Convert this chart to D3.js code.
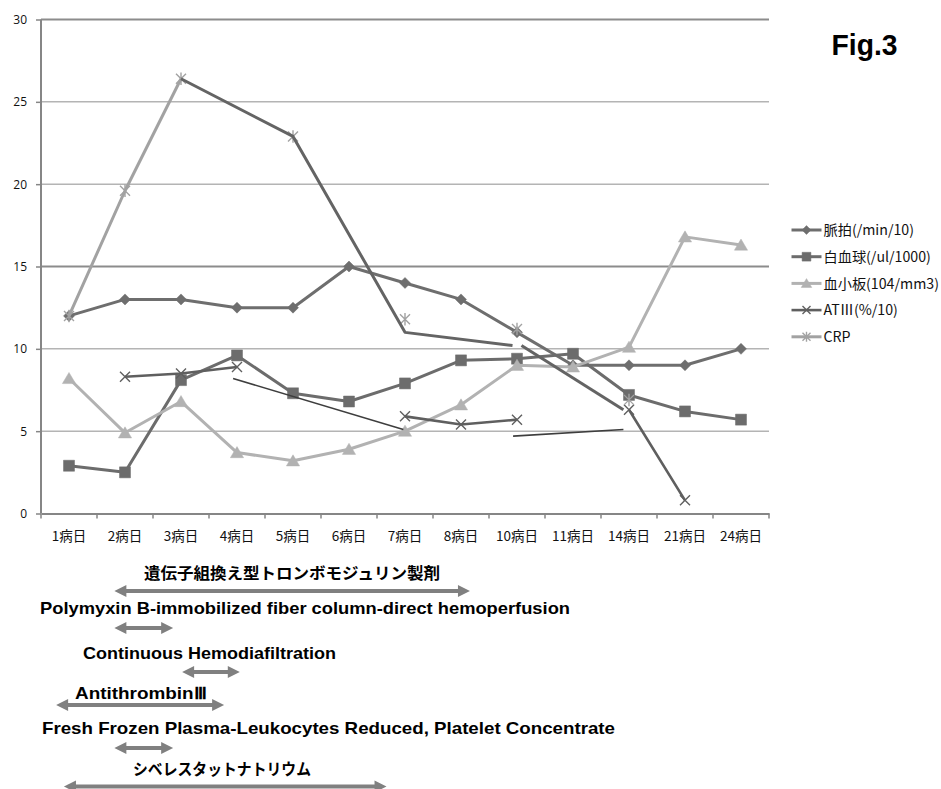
<!DOCTYPE html>
<html>
<head>
<meta charset="utf-8">
<script src="https://cdn.jsdelivr.net/npm/d3@7/dist/d3.min.js"></script>
<style>
  body { margin: 0; background: #fff; }
  svg { display: block; }
</style>
</head>
<body>
<svg id="chart" width="941" height="789"></svg>
<script>
// ---- data ----
const days = ["1病日", "2病日", "3病日", "4病日", "5病日", "6病日", "7病日", "8病日", "10病日", "11病日", "14病日", "21病日", "24病日"];
const pulse = [12, 13, 13, 12.5, 12.5, 15, 14, 13, 11, 9, 9, 9, 10];
const wbc = [2.9, 2.5, 8.1, 9.6, 7.3, 6.8, 7.9, 9.3, 9.4, 9.7, 7.2, 6.2, 5.7];
const platelets = [8.2, 4.9, 6.8, 3.7, 3.2, 3.9, 5.0, 6.6, 9.0, 8.9, 10.1, 16.8, 16.3];
const at3 = [null, 8.3, 8.5, 8.9, null, null, 5.9, 5.4, 5.7, null, 6.3, 0.8, null];
const crp = [12, 19.6, 26.4, null, 22.9, null, 11.8, null, 11.2, null, 6.9, null, null];
const yTicks = [0, 5, 10, 15, 20, 25, 30];

// connectors drawn by hand across the missing days: [day index, value]
const crpBridgeA = [[2, 26.4], [4, 22.9], [6, 11.0], [7.92, 10.2]];
const crpBridgeB = [[8.08, 10.2], [9.9, 6.3]];
const at3BridgeA = [[2.93, 8.2], [5.97, 5.1]];
const at3BridgeB = [[7.93, 4.7], [9.9, 5.1]];

// treatment periods (day index on the same axis)
const therapyNames = [
  "遺伝子組換え型トロンボモジュリン製剤",
  "Polymyxin B-immobilized fiber column-direct hemoperfusion",
  "Continuous Hemodiafiltration",
  "AntithrombinⅢ",
  "Fresh Frozen Plasma-Leukocytes Reduced, Platelet Concentrate",
  "シベレスタットナトリウム"
];
const therapyStart = [0.81, 0.81, 2.02, -0.23, 0.81, -0.09];
const therapyEnd = [7.16, 1.86, 3.05, 2.77, 1.86, 5.67];

const legendNames = ["脈拍(/min/10)", "白血球(/ul/1000)", "血小板(104/mm3)", "ATⅢ(%/10)", "CRP"];

// ---- layout ----
const svg = d3.select("#chart");
svg.append("rect").attr("width", 941).attr("height", 789).attr("fill", "#fff");

const plot = { left: 41, right: 769, top: 19.5, bottom: 513.5 };
const x = d3.scaleBand().domain(days).range([plot.left, plot.right]).padding(0);
const xi = d3.scaleLinear()
  .domain([0, days.length - 1])
  .range([x(days[0]) + x.bandwidth() / 2, x(days[days.length - 1]) + x.bandwidth() / 2]);
const y = d3.scaleLinear().domain([0, 30]).range([plot.bottom, plot.top]);

const SANS = "'Noto Sans CJK JP', 'Noto Sans', sans-serif";

// grid lines
const gridColor = v => (v === 30 || v === 15) ? "#8c8c8c" : "#b4b4b4";
svg.append("g").selectAll("line")
  .data(yTicks.filter(v => v > 0))
  .join("line")
  .attr("x1", plot.left).attr("x2", plot.right)
  .attr("y1", d => y(d)).attr("y2", d => y(d))
  .attr("stroke", gridColor)
  .attr("stroke-width", d => (d === 30 || d === 15) ? 2 : 1.5);

// y axis
const yAxis = svg.append("g")
  .attr("transform", `translate(${plot.left},0)`)
  .call(d3.axisLeft(y).tickValues(yTicks).tickSize(5).tickSizeOuter(0).tickPadding(9));
yAxis.select(".domain").remove();
yAxis.selectAll(".tick line").attr("stroke", "#868686").attr("stroke-width", 1.5);
yAxis.selectAll(".tick text")
  .attr("font-family", "'Open Sans', sans-serif").attr("font-size", 12).attr("fill", "#111");
svg.append("line")
  .attr("x1", plot.left).attr("x2", plot.left)
  .attr("y1", plot.top).attr("y2", plot.bottom)
  .attr("stroke", "#868686").attr("stroke-width", 2);

// x axis
const xAxis = svg.append("g")
  .attr("transform", `translate(0,${plot.bottom})`)
  .call(d3.axisBottom(x).tickSize(0).tickPadding(18).tickSizeOuter(0));
xAxis.select(".domain").attr("stroke", "#868686").attr("stroke-width", 2);
xAxis.selectAll(".tick text")
  .attr("font-family", SANS).attr("font-size", 13.5).attr("fill", "#111");
svg.append("g").selectAll("line")
  .data(days.map(d => x(d)).concat([plot.right]))
  .join("line")
  .attr("x1", d => d).attr("x2", d => d)
  .attr("y1", plot.bottom).attr("y2", plot.bottom + 5)
  .attr("stroke", "#868686").attr("stroke-width", 1.5);

// ---- marker shapes ----
const markers = {
  diamond: (s) => `M0,${-s}L${s},0L0,${s}L${-s},0Z`,
  square: (s) => `M${-s},${-s}H${s}V${s}H${-s}Z`,
  triangle: (s) => `M0,${-s}L${s * 1.1},${s * 0.85}L${-s * 1.1},${s * 0.85}Z`,
  times: (s) => `M${-s},${-s}L${s},${s}M${-s},${s}L${s},${-s}`,
  star: (s) => `M${-s},${-s}L${s},${s}M${-s},${s}L${s},${-s}M0,${-s * 1.25}V${s * 1.25}`
};

const seriesList = [
  { name: legendNames[0], values: pulse, color: "#6e6e6e", marker: "diamond", size: 5.5, filled: true, width: 3 },
  { name: legendNames[1], values: wbc, color: "#6c6c6c", marker: "square", size: 5.5, filled: true, width: 3 },
  { name: legendNames[2], values: platelets, color: "#b2b2b2", marker: "triangle", size: 6, filled: true, width: 3 },
  { name: legendNames[3], values: at3, color: "#5f5f5f", marker: "times", size: 5, filled: false, width: 2.6 },
  { name: legendNames[4], values: crp, color: "#a2a2a2", marker: "star", size: 5, filled: false, width: 3 }
];

const line = d3.line()
  .defined(d => d[1] != null)
  .x(d => xi(d[0]))
  .y(d => y(d[1]));

function drawMarker(g, s, cx, cy) {
  g.append("path")
    .attr("transform", `translate(${cx},${cy})`)
    .attr("d", markers[s.marker](s.size))
    .attr("fill", s.filled ? s.color : "none")
    .attr("stroke", s.color)
    .attr("stroke-width", s.filled ? 0.5 : 1.4);
}

const seriesG = svg.append("g");
seriesList.forEach(s => {
  const pts = s.values.map((v, i) => [i, v]);
  const g = seriesG.append("g");
  g.append("path")
    .datum(pts)
    .attr("d", line)
    .attr("fill", "none")
    .attr("stroke", s.color)
    .attr("stroke-width", s.width)
    .attr("stroke-linejoin", "round");
  pts.filter(p => p[1] != null).forEach(p => drawMarker(g, s, xi(p[0]), y(p[1])));
});

// hand-drawn connectors
const bridgeG = svg.append("g").attr("fill", "none").attr("stroke-linecap", "butt");
[crpBridgeA, crpBridgeB].forEach(b => {
  bridgeG.append("path").datum(b).attr("d", line)
    .attr("stroke", "#646464").attr("stroke-width", 3).attr("stroke-linejoin", "round");
});
[at3BridgeA, at3BridgeB].forEach(b => {
  bridgeG.append("path").datum(b).attr("d", line)
    .attr("stroke", "#3e3e3e").attr("stroke-width", 1.6);
});

// ---- legend ----
const legend = svg.append("g");
seriesList.forEach((s, i) => {
  const ly = 230 + i * 26.7;
  legend.append("line")
    .attr("x1", 791.5).attr("x2", 821.5).attr("y1", ly).attr("y2", ly)
    .attr("stroke", s.color).attr("stroke-width", s.width);
  drawMarker(legend, { ...s, size: s.size * 0.8 }, 806.5, ly);
  legend.append("text")
    .attr("x", 823.5).attr("y", ly)
    .attr("dy", "0.36em")
    .attr("font-family", SANS).attr("font-size", 14.2).attr("fill", "#111")
    .text(s.name);
});

// title
svg.append("text")
  .attr("x", 831.5).attr("y", 55)
  .attr("font-family", "'Liberation Sans', Arial, sans-serif")
  .attr("font-weight", "bold").attr("font-size", 30)
  .attr("textLength", 66).attr("lengthAdjust", "spacingAndGlyphs")
  .attr("fill", "#000")
  .text("Fig.3");

// ---- treatment periods ----
const noteLayout = [
  { x0: 144, x1: 440, ty: 573, ay: 591, size: 16, cjk: true },
  { x0: 40, x1: 570, ty: 608, ay: 628, size: 17, cjk: false },
  { x0: 83, x1: 336, ty: 653, ay: 672, size: 17, cjk: false },
  { x0: 75, x1: 207, ty: 693, ay: 705, size: 17, cjk: false },
  { x0: 42, x1: 615, ty: 728, ay: 748, size: 17, cjk: false },
  { x0: 133, x1: 311, ty: 769, ay: 786.5, size: 16, cjk: true }
];

function doubleArrow(xa, xb, yc) {
  const h = 12, hh = 6, t = 2.1;
  return `M${xa},${yc}L${xa + h},${yc - hh}V${yc - t}H${xb - h}V${yc - hh}L${xb},${yc}` +
         `L${xb - h},${yc + hh}V${yc + t}H${xa + h}V${yc + hh}Z`;
}

const notes = svg.append("g");
therapyNames.forEach((name, i) => {
  const L = noteLayout[i];
  notes.append("text")
    .attr("x", L.x0).attr("y", L.ty)
    .attr("dy", "0.36em")
    .attr("font-family", L.cjk ? SANS : "'Liberation Sans', Arial, sans-serif")
    .attr("font-weight", "bold").attr("font-size", L.size)
    .attr("textLength", L.x1 - L.x0).attr("lengthAdjust", "spacingAndGlyphs")
    .attr("fill", "#000")
    .text(name);
  notes.append("path")
    .attr("d", doubleArrow(xi(therapyStart[i]), xi(therapyEnd[i]), L.ay))
    .attr("fill", "#808080");
});
</script>
</body>
</html>
